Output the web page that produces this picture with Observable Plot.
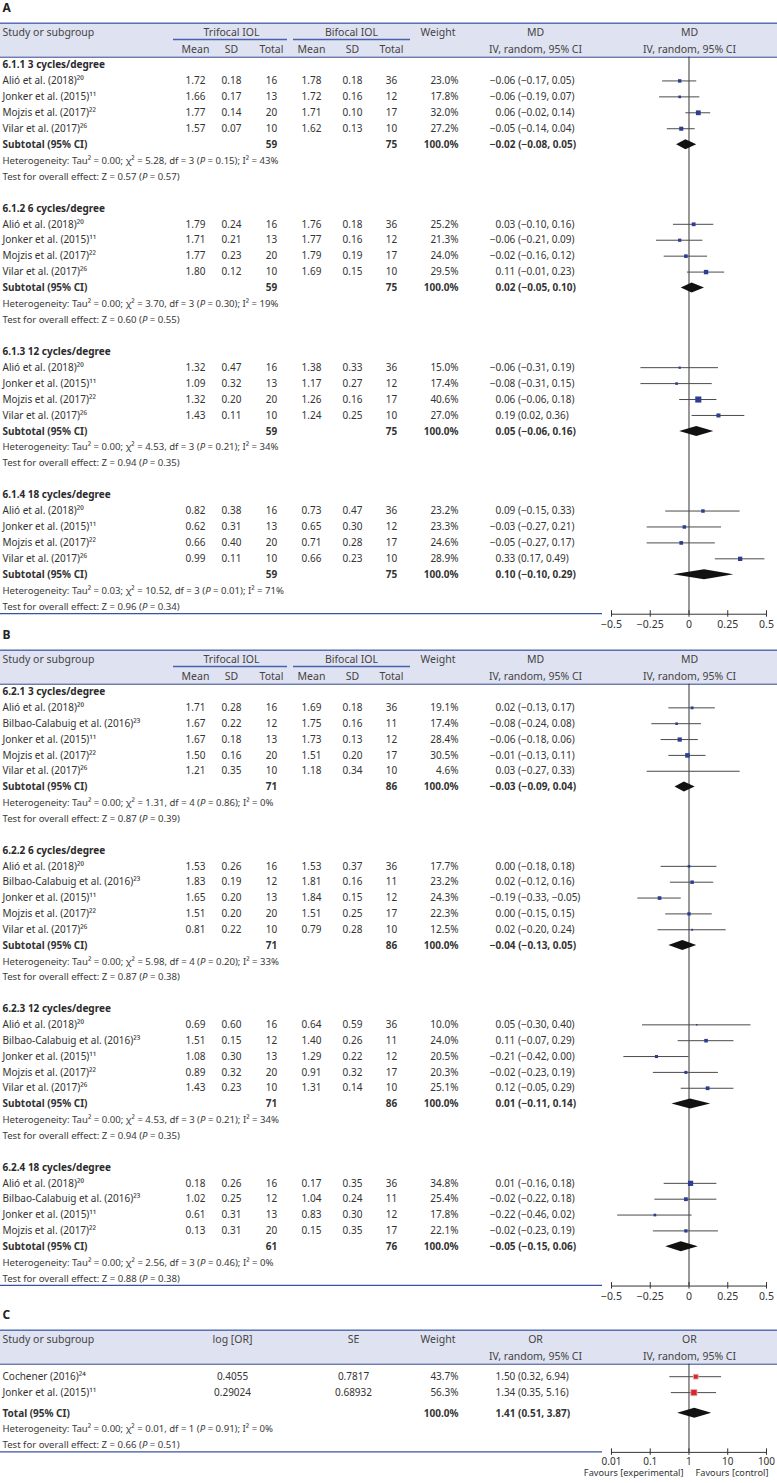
<!DOCTYPE html>
<html><head><meta charset="utf-8">
<script src="https://cdn.jsdelivr.net/npm/d3@7"></script>
<script src="https://cdn.jsdelivr.net/npm/@observablehq/plot@0.6"></script>
<style>body{margin:0;background:#fff}#chart svg{display:block}</style>
</head><body><div id="chart"></div>
<script>
// ---------------- DATA ----------------
const groupsA = ["6.1.1 3 cycles/degree","6.1.2 6 cycles/degree","6.1.3 12 cycles/degree","6.1.4 18 cycles/degree"];
// group, study, ref, triMean, triSD, triN, biMean, biSD, biN, weight, MD, lo, hi
const studiesA = [
  [0,"Alió et al. (2018)","²⁰",1.72,0.18,16,1.78,0.18,36,23.0,-0.06,-0.17,0.05],
  [0,"Jonker et al. (2015)","¹¹",1.66,0.17,13,1.72,0.16,12,17.8,-0.06,-0.19,0.07],
  [0,"Mojzis et al. (2017)","²²",1.77,0.14,20,1.71,0.10,17,32.0,0.06,-0.02,0.14],
  [0,"Vilar et al. (2017)","²⁶",1.57,0.07,10,1.62,0.13,10,27.2,-0.05,-0.14,0.04],
  [1,"Alió et al. (2018)","²⁰",1.79,0.24,16,1.76,0.18,36,25.2,0.03,-0.10,0.16],
  [1,"Jonker et al. (2015)","¹¹",1.71,0.21,13,1.77,0.16,12,21.3,-0.06,-0.21,0.09],
  [1,"Mojzis et al. (2017)","²²",1.77,0.23,20,1.79,0.19,17,24.0,-0.02,-0.16,0.12],
  [1,"Vilar et al. (2017)","²⁶",1.80,0.12,10,1.69,0.15,10,29.5,0.11,-0.01,0.23],
  [2,"Alió et al. (2018)","²⁰",1.32,0.47,16,1.38,0.33,36,15.0,-0.06,-0.31,0.19],
  [2,"Jonker et al. (2015)","¹¹",1.09,0.32,13,1.17,0.27,12,17.4,-0.08,-0.31,0.15],
  [2,"Mojzis et al. (2017)","²²",1.32,0.20,20,1.26,0.16,17,40.6,0.06,-0.06,0.18],
  [2,"Vilar et al. (2017)","²⁶",1.43,0.11,10,1.24,0.25,10,27.0,0.19,0.02,0.36],
  [3,"Alió et al. (2018)","²⁰",0.82,0.38,16,0.73,0.47,36,23.2,0.09,-0.15,0.33],
  [3,"Jonker et al. (2015)","¹¹",0.62,0.31,13,0.65,0.30,12,23.3,-0.03,-0.27,0.21],
  [3,"Mojzis et al. (2017)","²²",0.66,0.40,20,0.71,0.28,17,24.6,-0.05,-0.27,0.17],
  [3,"Vilar et al. (2017)","²⁶",0.99,0.11,10,0.66,0.23,10,28.9,0.33,0.17,0.49]
];
// triN, biN, MD, lo, hi
const subtotalsA = [[59,75,-0.02,-0.08,0.05],[59,75,0.02,-0.05,0.10],[59,75,0.05,-0.06,0.16],[59,75,0.10,-0.10,0.29]];
const hetA = [
  "Tau² = 0.00; χ² = 5.28, df = 3 (P = 0.15); I² = 43%",
  "Tau² = 0.00; χ² = 3.70, df = 3 (P = 0.30); I² = 19%",
  "Tau² = 0.00; χ² = 4.53, df = 3 (P = 0.21); I² = 34%",
  "Tau² = 0.03; χ² = 10.52, df = 3 (P = 0.01); I² = 71%"
];
const testA = ["Z = 0.57 (P = 0.57)","Z = 0.60 (P = 0.55)","Z = 0.94 (P = 0.35)","Z = 0.96 (P = 0.34)"];

const groupsB = ["6.2.1 3 cycles/degree","6.2.2 6 cycles/degree","6.2.3 12 cycles/degree","6.2.4 18 cycles/degree"];
const studiesB = [
  [0,"Alió et al. (2018)","²⁰",1.71,0.28,16,1.69,0.18,36,19.1,0.02,-0.13,0.17],
  [0,"Bilbao-Calabuig et al. (2016)","²³",1.67,0.22,12,1.75,0.16,11,17.4,-0.08,-0.24,0.08],
  [0,"Jonker et al. (2015)","¹¹",1.67,0.18,13,1.73,0.13,12,28.4,-0.06,-0.18,0.06],
  [0,"Mojzis et al. (2017)","²²",1.50,0.16,20,1.51,0.20,17,30.5,-0.01,-0.13,0.11],
  [0,"Vilar et al. (2017)","²⁶",1.21,0.35,10,1.18,0.34,10,4.6,0.03,-0.27,0.33],
  [1,"Alió et al. (2018)","²⁰",1.53,0.26,16,1.53,0.37,36,17.7,0.00,-0.18,0.18],
  [1,"Bilbao-Calabuig et al. (2016)","²³",1.83,0.19,12,1.81,0.16,11,23.2,0.02,-0.12,0.16],
  [1,"Jonker et al. (2015)","¹¹",1.65,0.20,13,1.84,0.15,12,24.3,-0.19,-0.33,-0.05],
  [1,"Mojzis et al. (2017)","²²",1.51,0.20,20,1.51,0.25,17,22.3,0.00,-0.15,0.15],
  [1,"Vilar et al. (2017)","²⁶",0.81,0.22,10,0.79,0.28,10,12.5,0.02,-0.20,0.24],
  [2,"Alió et al. (2018)","²⁰",0.69,0.60,16,0.64,0.59,36,10.0,0.05,-0.30,0.40],
  [2,"Bilbao-Calabuig et al. (2016)","²³",1.51,0.15,12,1.40,0.26,11,24.0,0.11,-0.07,0.29],
  [2,"Jonker et al. (2015)","¹¹",1.08,0.30,13,1.29,0.22,12,20.5,-0.21,-0.42,0.00],
  [2,"Mojzis et al. (2017)","²²",0.89,0.32,20,0.91,0.32,17,20.3,-0.02,-0.23,0.19],
  [2,"Vilar et al. (2017)","²⁶",1.43,0.23,10,1.31,0.14,10,25.1,0.12,-0.05,0.29],
  [3,"Alió et al. (2018)","²⁰",0.18,0.26,16,0.17,0.35,36,34.8,0.01,-0.16,0.18],
  [3,"Bilbao-Calabuig et al. (2016)","²³",1.02,0.25,12,1.04,0.24,11,25.4,-0.02,-0.22,0.18],
  [3,"Jonker et al. (2015)","¹¹",0.61,0.31,13,0.83,0.30,12,17.8,-0.22,-0.46,0.02],
  [3,"Mojzis et al. (2017)","²²",0.13,0.31,20,0.15,0.35,17,22.1,-0.02,-0.23,0.19]
];
const subtotalsB = [[71,86,-0.03,-0.09,0.04],[71,86,-0.04,-0.13,0.05],[71,86,0.01,-0.11,0.14],[61,76,-0.05,-0.15,0.06]];
const hetB = [
  "Tau² = 0.00; χ² = 1.31, df = 4 (P = 0.86); I² = 0%",
  "Tau² = 0.00; χ² = 5.98, df = 4 (P = 0.20); I² = 33%",
  "Tau² = 0.00; χ² = 4.53, df = 3 (P = 0.21); I² = 34%",
  "Tau² = 0.00; χ² = 2.56, df = 3 (P = 0.46); I² = 0%"
];
const testB = ["Z = 0.87 (P = 0.39)","Z = 0.87 (P = 0.38)","Z = 0.94 (P = 0.35)","Z = 0.88 (P = 0.38)"];

// study, ref, log[OR], SE, weight, OR, lo, hi
const studiesC = [
  ["Cochener (2016)","²⁴",0.4055,0.7817,43.7,1.50,0.32,6.94],
  ["Jonker et al. (2015)","¹¹",0.29024,0.68932,56.3,1.34,0.35,5.16]
];
const totalC = [1.41,0.51,3.87];
const hetC = "Tau² = 0.00; χ² = 0.01, df = 1 (P = 0.91); I² = 0%";
const testC = "Z = 0.66 (P = 0.51)";

const ticksMD = [-0.5,-0.25,0,0.25,0.5];
const ticksOR = [0.01,0.1,1,10,100];
const favours = ["Favours [experimental]","Favours [control]"];

// ---------------- LAYOUT / STYLE ----------------
const W = 777;
const FONT = "'Noto Sans', 'Open Sans', sans-serif";
const INK = "#333";
const BAND = "#dfe2f1";
const LINE = "#4a62ae";
const NAVY = "#2d3e92";
const COL = {name: 2, tm: 195, tsd: 231, tn: 271, bm: 311, bsd: 352, bn: 391, w: 458, ci: 495, md: 535, fp: 689,
             lor: 232, se: 353, wh: 437.5, tri: 231, bi: 351};
const HDR = {label: 7.3, top: 22.7, l1: 31.7, ul: 39, l2: 48.8, bot: 56.7};
const MINUS_W = 5.7;

const fmt2 = v => (v < 0 ? "−" : "") + Math.abs(v).toFixed(2);
const ciText = (e, l, h) => `${fmt2(e)} (${fmt2(l)}, ${fmt2(h)})`;

function txt(data, opts) {
  return Plot.text(data, {y: "r", frameAnchor: "left", fill: INK, fontSize: 10, ...opts});
}

function buildMD(groups, studies, subtotals, hets, tests) {
  const rows = []; let r = 0;
  groups.forEach((g, gi) => {
    rows.push({type: "group", r: r++, label: g});
    studies.filter(s => s[0] === gi).forEach(s => rows.push({type: "study", r: r++, name: s[1] + s[2],
      tm: s[3], tsd: s[4], tn: s[5], bm: s[6], bsd: s[7], bn: s[8], w: s[9], est: s[10], lo: s[11], hi: s[12]}));
    const st = subtotals[gi];
    rows.push({type: "sub", r: r++, tn: st[0], bn: st[1], w: 100, est: st[2], lo: st[3], hi: st[4]});
    rows.push({type: "het", r: r++, label: "Heterogeneity: " + hets[gi]});
    rows.push({type: "test", r: r++, label: "Test for overall effect: " + tests[gi]});
    r++;
  });
  return rows;
}

function headerMarks(label, line1, line2, underlines) {
  const m = [
    Plot.rect([{a: HDR.top, b: HDR.bot}], {y1: "a", y2: "b", fill: BAND}),
    Plot.ruleY([HDR.top], {stroke: "#5c70b6", strokeWidth: 1.5}),
    Plot.ruleY([HDR.bot], {stroke: "#2c418c", strokeWidth: 1}),
    txt([{r: HDR.label}], {text: () => label, dx: 2, fontWeight: 700, fontSize: 12, fill: "#222"})
  ];
  underlines.forEach(([a, b]) => m.push(Plot.ruleY([HDR.ul], {insetLeft: a, insetRight: W - b, stroke: LINE, strokeWidth: 1.3})));
  line1.forEach(([t, x, anchor]) => m.push(txt([{r: HDR.l1}], {text: () => t, dx: x, textAnchor: anchor, fontSize: 10.5, fill: "#444"})));
  line2.forEach(([t, x, anchor]) => m.push(txt([{r: HDR.l2}], {text: () => t, dx: x, textAnchor: anchor, fontSize: 10.5, fill: "#444"})));
  return m;
}

function axisMarks(ticks, fmt, axisY, x1, x2, labelGap, size) {
  return [
    Plot.ruleY([axisY], {x1: x1, x2: x2, stroke: "#333"}),
    Plot.ruleX(ticks, {x: d => d, y1: axisY - 3.5, y2: axisY + 3, stroke: "#333"}),
    Plot.text(ticks, {x: d => d, y: () => axisY + labelGap, text: fmt, fontSize: size, fill: INK})
  ];
}

function plotPanel(height, x, marks) {
  return Plot.plot({
    width: W, height, margin: 0,
    x: {...x, axis: null},
    y: {type: "linear", domain: [0, height], range: [0, height], axis: null},
    r: {type: "identity"},
    style: {fontFamily: FONT, fontSize: "10px", background: "#fff", overflow: "visible"},
    marks
  });
}

function mdPanel(label, groups, studies, subtotals, hets, tests, r0, rowH, height) {
  // row index -> vertical position inside the panel
  const rows = buildMD(groups, studies, subtotals, hets, tests).map(d => ({...d, r: r0 + d.r * rowH}));
  const lastY = rows[rows.length - 1].r;
  const axisY = lastY + 7.6;
  const st = rows.filter(d => d.type === "study");
  const sb = rows.filter(d => d.type === "sub");
  const txtRows = rows.filter(d => d.type === "het" || d.type === "test");
  const h = 5;
  const dpts = sb.flatMap((d, i) => [
    {id: i, x: d.lo, y1: d.r, y2: d.r},
    {id: i, x: d.est, y1: d.r - h, y2: d.r + h},
    {id: i, x: d.hi, y1: d.r, y2: d.r}
  ]);
  const line1 = [["Study or subgroup", COL.name, "start"], ["Trifocal IOL", COL.tri, "middle"], ["Bifocal IOL", COL.bi, "middle"],
                 ["Weight", COL.wh, "middle"], ["MD", COL.md, "middle"], ["MD", COL.fp, "middle"]];
  const line2 = [["Mean", COL.tm, "middle"], ["SD", COL.tsd, "middle"], ["Total", COL.tn, "middle"],
                 ["Mean", COL.bm, "middle"], ["SD", COL.bsd, "middle"], ["Total", COL.bn, "middle"],
                 ["IV, random, 95% CI", COL.md, "middle"], ["IV, random, 95% CI", COL.fp, "middle"]];
  const bold = {fontWeight: 700};
  const marks = [
    ...headerMarks(label, line1, line2, [[173, 287], [293, 410]]),
    Plot.ruleX([0], {y1: HDR.bot, y2: axisY, stroke: "#333"}),
    txt(rows.filter(d => d.type === "group"), {text: "label", dx: COL.name, ...bold, fill: "#2a2a2a"}),
    txt(st, {text: "name", dx: COL.name}),
    txt(st, {text: d => d.tm.toFixed(2), dx: COL.tm, textAnchor: "middle"}),
    txt(st, {text: d => d.tsd.toFixed(2), dx: COL.tsd, textAnchor: "middle"}),
    txt(st, {text: "tn", dx: COL.tn, textAnchor: "middle"}),
    txt(st, {text: d => d.bm.toFixed(2), dx: COL.bm, textAnchor: "middle"}),
    txt(st, {text: d => d.bsd.toFixed(2), dx: COL.bsd, textAnchor: "middle"}),
    txt(st, {text: "bn", dx: COL.bn, textAnchor: "middle"}),
    txt(st, {text: d => d.w.toFixed(1) + "%", dx: COL.w, textAnchor: "end"}),
    txt(st.filter(d => d.est < 0), {text: d => ciText(d.est, d.lo, d.hi), dx: COL.ci - MINUS_W}),
    txt(st.filter(d => d.est >= 0), {text: d => ciText(d.est, d.lo, d.hi), dx: COL.ci}),
    txt(sb, {text: () => "Subtotal (95% CI)", dx: COL.name, ...bold}),
    txt(sb, {text: "tn", dx: COL.tn, textAnchor: "middle", ...bold}),
    txt(sb, {text: "bn", dx: COL.bn, textAnchor: "middle", ...bold}),
    txt(sb, {text: d => d.w.toFixed(1) + "%", dx: COL.w, textAnchor: "end", ...bold}),
    txt(sb.filter(d => d.est < 0), {text: d => ciText(d.est, d.lo, d.hi), dx: COL.ci - MINUS_W, ...bold}),
    txt(sb.filter(d => d.est >= 0), {text: d => ciText(d.est, d.lo, d.hi), dx: COL.ci, ...bold}),
    txt(txtRows, {text: "label", dx: COL.name, fontSize: 9.6, fill: "#3a3a3a"}),
    Plot.ruleY([axisY - 0.6], {insetRight: W - 602, stroke: "#3b52a0", strokeWidth: 1.3}),
    Plot.ruleY(st, {y: "r", x1: "lo", x2: "hi", stroke: "#4a4a4a", strokeWidth: 1}),
    Plot.dot(st, {x: "est", y: "r", r: d => d.w * 0.15 / Math.sqrt(Math.PI), symbol: "square", fill: NAVY}),
    Plot.areaY(dpts, {x: "x", y1: "y1", y2: "y2", z: "id", fill: "#111", curve: "linear"}),
    ...axisMarks(ticksMD, d => d === 0 ? "0" : (d < 0 ? "−" : "") + Math.abs(d), axisY, -0.5, 0.5, 10.5, 10.5)
  ];
  return plotPanel(height, {type: "linear", domain: [-0.5, 0.5], range: [611, 766]}, marks);
}

function orPanel(label, height) {
  const r0 = 69.2, rowH = 15.93;
  const st = studiesC.map((s, i) => ({r: r0 + i * rowH, name: s[0] + s[1], lor: s[2], se: s[3], w: s[4], est: s[5], lo: s[6], hi: s[7]}));
  const tot = [{r: r0 + 2.3 * rowH, est: totalC[0], lo: totalC[1], hi: totalC[2]}];
  const txtRows = [{r: r0 + 3.3 * rowH, label: "Heterogeneity: " + hetC}, {r: r0 + 4.3 * rowH, label: "Test for overall effect: " + testC}];
  const axisY = r0 + 4.3 * rowH + 7.2;
  const h = 5;
  const dpts = tot.flatMap((d, i) => [
    {id: i, x: d.lo, y1: d.r, y2: d.r},
    {id: i, x: d.est, y1: d.r - h, y2: d.r + h},
    {id: i, x: d.hi, y1: d.r, y2: d.r}
  ]);
  const line1 = [["Study or subgroup", COL.name, "start"], ["log [OR]", COL.lor, "middle"], ["SE", COL.se, "middle"],
                 ["Weight", COL.wh, "middle"], ["OR", COL.md, "middle"], ["OR", COL.fp, "middle"]];
  const line2 = [["IV, random, 95% CI", COL.md, "middle"], ["IV, random, 95% CI", COL.fp, "middle"]];
  const bold = {fontWeight: 700};
  const ci = d => `${d.est.toFixed(2)} (${d.lo.toFixed(2)}, ${d.hi.toFixed(2)})`;
  const marks = [
    ...headerMarks(label, line1, line2, []),
    Plot.ruleX([1], {y1: HDR.bot, y2: axisY, stroke: "#333"}),
    txt(st, {text: "name", dx: COL.name}),
    txt(st, {text: d => String(d.lor), dx: COL.lor, textAnchor: "middle"}),
    txt(st, {text: d => String(d.se), dx: COL.se, textAnchor: "middle"}),
    txt(st, {text: d => d.w.toFixed(1) + "%", dx: COL.w, textAnchor: "end"}),
    txt(st, {text: ci, dx: COL.ci}),
    txt(tot, {text: () => "Total (95% CI)", dx: COL.name, ...bold}),
    txt(tot, {text: () => "100.0%", dx: COL.w, textAnchor: "end", ...bold}),
    txt(tot, {text: ci, dx: COL.ci, ...bold}),
    txt(txtRows, {text: "label", dx: COL.name, fontSize: 9.6, fill: "#3a3a3a"}),
    Plot.ruleY([axisY - 0.6], {insetRight: W - 602, stroke: "#3b52a0", strokeWidth: 1.3}),
    Plot.ruleY(st, {y: "r", x1: "lo", x2: "hi", stroke: "#4a4a4a"}),
    Plot.dot(st, {x: "est", y: "r", r: d => d.w * 0.11 / Math.sqrt(Math.PI), symbol: "square", fill: "#d0282e", stroke: "#f0b0b0", strokeWidth: 0.8}),
    Plot.areaY(dpts, {x: "x", y1: "y1", y2: "y2", z: "id", fill: "#111", curve: "linear"}),
    ...axisMarks(ticksOR, d => String(d), axisY, 0.01, 100, 9, 10),
    txt([{r: axisY + 21}], {text: () => favours[0], dx: 683, textAnchor: "end", fontSize: 9.2}),
    txt([{r: axisY + 21}], {text: () => favours[1], dx: 695, textAnchor: "start", fontSize: 9.2})
  ];
  return plotPanel(height, {type: "log", domain: [0.01, 100], range: [611, 766]}, marks);
}

const panels = [
  mdPanel("A", groupsA, studiesA, subtotalsA, hetA, testA, 64.5, 15.93, 627.3),
  mdPanel("B", groupsB, studiesB, subtotalsB, hetB, testB, 64.5, 15.85, 680),
  orPanel("C", 175.7)
];
const root = document.getElementById("chart");
panels.forEach(p => {
  root.appendChild(p);
  // italic P in the statistics lines
  p.querySelectorAll("text").forEach(t => {
    if (t.children.length === 0 && /\(P = /.test(t.textContent)) {
      const s = t.textContent;
      t.textContent = "";
      s.split(/(P)(?= =)/).forEach(part => {
        const ts = document.createElementNS("http://www.w3.org/2000/svg", "tspan");
        ts.textContent = part;
        if (part === "P") ts.setAttribute("font-style", "italic");
        t.appendChild(ts);
      });
    }
  });
});
</script></body></html>
